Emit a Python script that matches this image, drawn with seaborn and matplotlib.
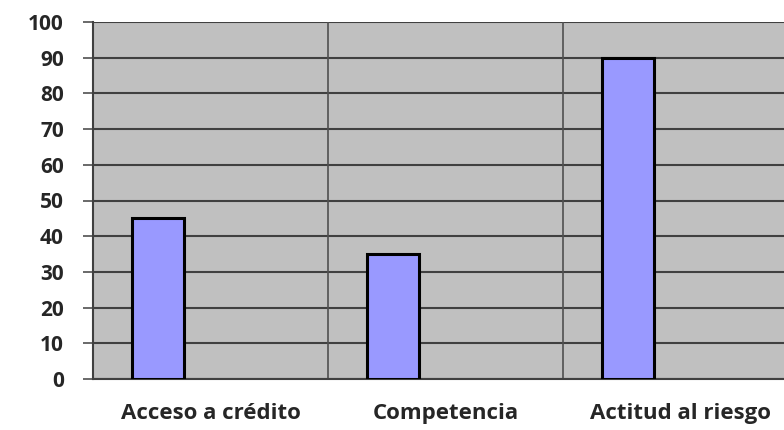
import pandas as pd
import matplotlib.pyplot as plt
import seaborn as sns

# Chart data
categories = ['Acceso a crédito', 'Competencia', 'Actitud al riesgo']
values = [45, 35, 90]
series_order = ['Serie 1', 'Serie 2', 'Serie 3']  # only the first one has values
y_ticks = list(range(0, 101, 10))

df = pd.DataFrame({'factor': categories, 'valor': values, 'serie': 'Serie 1'})

sns.set_style('white')
plt.rcParams['font.family'] = ['Open Sans', 'DejaVu Sans']

fig = plt.figure(figsize=(7.84, 4.30), dpi=100)
ax = fig.add_axes([93 / 784, 51 / 430, 705 / 784, 357 / 430])
ax.set_facecolor('#C0C0C0')

sns.barplot(data=df, x='factor', y='valor', hue='serie', hue_order=series_order,
            order=categories, width=0.665, dodge=True, gap=0, saturation=1,
            palette=['#9999FF'] * 3,
            edgecolor='black', linewidth=2.2, legend=False, ax=ax, zorder=3)

ax.set_ylim(0, 100)
ax.set_xlim(-0.5, 2.5)
ax.set_yticks(y_ticks)
ax.set_yticklabels([str(t) for t in y_ticks], fontsize=15, fontweight='bold')
ax.yaxis.grid(True, color='#404040', linewidth=1.5, zorder=1)
ax.set_axisbelow(True)

# category separators
for b in [0.5, 1.5]:
    ax.axvline(b, color='#505050', linewidth=1.2, zorder=1)

ax.set_xticks([-0.5, 0.5, 1.5])
ax.set_xticklabels([])
ax.set_xticks([0, 1, 2], minor=True)
ax.set_xticklabels(categories, minor=True, fontsize=16, fontweight='bold')
ax.tick_params(axis='x', which='major', length=6, width=1.2, color='#505050', direction='out')
ax.tick_params(axis='x', which='minor', length=0, pad=17)
ax.tick_params(axis='y', length=7, width=1.2, color='#505050', direction='out', pad=14, left=True)

for side in ['top', 'right']:
    ax.spines[side].set_visible(False)
ax.spines['left'].set_color('#404040')
ax.spines['left'].set_linewidth(1.5)
ax.spines['bottom'].set_color('#404040')
ax.spines['bottom'].set_linewidth(1.5)

ax.set_xlabel('')
ax.set_ylabel('')

fig.savefig('out.png', dpi=100)
